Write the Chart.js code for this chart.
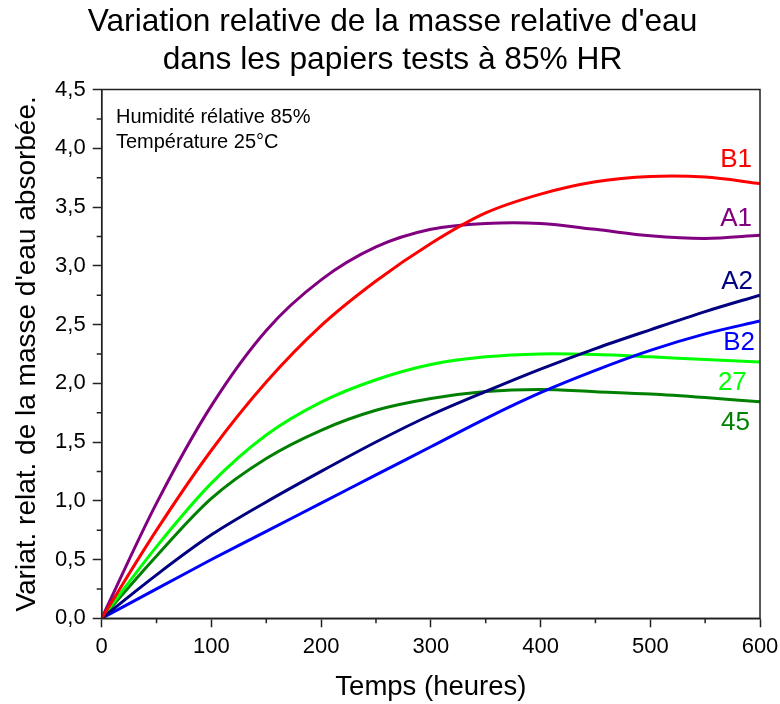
<!DOCTYPE html>
<html>
<head>
<meta charset="utf-8">
<script src="https://cdn.jsdelivr.net/npm/chart.js@4.4.1/dist/chart.umd.min.js"></script>
<style>
  html, body { margin: 0; padding: 0; background: #fff; }
  #wrap { width: 780px; height: 704px; }
</style>
</head>
<body>
<div id="wrap"><canvas id="c" width="780" height="704"></canvas></div>
<script>
// ---- data ----
const times = [0, 50, 100, 150, 200, 250, 300, 350, 400, 450, 500, 550, 600];
const seriesA1 = [0, 0.98, 1.81, 2.45, 2.88, 3.16, 3.31, 3.36, 3.36, 3.31, 3.255, 3.232, 3.26];
const seriesB1 = [0, 0.75, 1.43, 2.01, 2.49, 2.87, 3.19, 3.45, 3.61, 3.715, 3.76, 3.755, 3.70];
const seriesA2 = [0, 0.37, 0.71, 0.99, 1.25, 1.50, 1.73, 1.93, 2.12, 2.295, 2.455, 2.61, 2.75];
const seriesB2 = [0, 0.25, 0.50, 0.74, 0.98, 1.22, 1.46, 1.70, 1.92, 2.11, 2.28, 2.42, 2.53];
const series27 = [0, 0.61, 1.15, 1.56, 1.84, 2.03, 2.16, 2.225, 2.25, 2.245, 2.225, 2.202, 2.182];
const series45 = [0, 0.53, 1.02, 1.36, 1.60, 1.77, 1.87, 1.93, 1.948, 1.928, 1.908, 1.878, 1.843];

const seriesNames  = ['B1', 'A1', 'A2', 'B2', '27', '45'];
const seriesColors = ['#ff0000', '#800080', '#000080', '#0000ff', '#00ff00', '#008000'];
const seriesValues = [seriesB1, seriesA1, seriesA2, seriesB2, series27, series45];
// end labels: right edge (hours) and vertical centre (value)
const labelX = [592.7, 592.7, 593.6, 595.4, 588, 590.9];
const labelY = [3.90, 3.40, 2.86, 2.34, 2.00, 1.66];

const xMinor = [50, 150, 250, 350, 450, 550];
const yMinor = [0.25, 0.75, 1.25, 1.75, 2.25, 2.75, 3.25, 3.75, 4.25];

const titleLines = ["Variation relative de la masse relative d'eau", "dans les papiers tests à 85% HR"];
const xTitle = 'Temps (heures)';
const yTitle = "Variat. relat. de la masse d'eau absorbée.";
const notes = ['Humidité rélative 85%', 'Température 25°C'];
const notesX = 13;
const notesY = [4.215, 4.005];

const FONT = "'Liberation Sans', Arial, Helvetica, sans-serif";
Chart.defaults.font.family = FONT;
Chart.defaults.color = '#000';

const datasets = seriesValues.map((vals, i) => ({
  label: seriesNames[i],
  data: times.map((t, k) => ({ x: t, y: vals[k] })),
  borderColor: seriesColors[i],
  backgroundColor: seriesColors[i],
  borderWidth: 3,
  pointRadius: 0,
  fill: false,
  tension: 0.33
}));

const extras = {
  id: 'extras',
  afterDatasetsDraw(chart) {
    const { ctx, chartArea: a, scales: { x, y } } = chart;
    ctx.save();
    // frame
    ctx.strokeStyle = '#222';
    ctx.lineWidth = 1.5;
    ctx.strokeRect(a.left, a.top, a.right - a.left, a.bottom - a.top);
    // minor ticks
    ctx.beginPath();
    yMinor.forEach(v => { const py = y.getPixelForValue(v); ctx.moveTo(a.left - 5, py); ctx.lineTo(a.left, py); });
    xMinor.forEach(v => { const px = x.getPixelForValue(v); ctx.moveTo(px, a.bottom); ctx.lineTo(px, a.bottom + 5); });
    ctx.stroke();
    // title
    ctx.fillStyle = '#000';
    ctx.font = "31.7px " + FONT;
    ctx.textAlign = 'center';
    ctx.textBaseline = 'middle';
    const cx = chart.width / 2 + 2.5;
    ctx.fillText(titleLines[0], cx, 22);
    ctx.fillText(titleLines[1], cx, 60);
    // notes
    ctx.font = "20px " + FONT;
    ctx.textAlign = 'left';
    ctx.textBaseline = 'alphabetic';
    notes.forEach((t, i) => ctx.fillText(t, x.getPixelForValue(notesX), y.getPixelForValue(notesY[i])));
    // series labels
    ctx.font = "26px " + FONT;
    ctx.textAlign = 'right';
    ctx.textBaseline = 'middle';
    seriesNames.forEach((n, i) => {
      ctx.fillStyle = seriesColors[i];
      ctx.fillText(n, x.getPixelForValue(labelX[i]), y.getPixelForValue(labelY[i]));
    });
    ctx.restore();
  }
};

new Chart(document.getElementById('c'), {
  type: 'line',
  data: { datasets },
  options: {
    responsive: false,
    animation: false,
    layout: { padding: { top: 89.5, right: 20, bottom: 0, left: 0 } },
    plugins: {
      legend: { display: false },
      tooltip: { enabled: false },
      title: { display: false }
    },
    scales: {
      x: {
        type: 'linear',
        min: 0, max: 600,
        afterFit(s) { s.height = 85.7; s.paddingRight = 0; s.paddingLeft = 0; },
        border: { display: true, color: '#222', width: 1.5 },
        grid: { drawOnChartArea: false, drawTicks: true, tickLength: 9, tickColor: '#222', tickWidth: 1.5 },
        ticks: { stepSize: 100, color: '#000', font: { size: 22 }, padding: 6, maxRotation: 0,
                 callback: v => String(v) },
        title: { display: true, text: xTitle, color: '#000', font: { size: 27.5 }, padding: { top: 0, bottom: 0 } }
      },
      y: {
        type: 'linear',
        min: 0, max: 4.5,
        afterFit(s) { s.width = 101.7; s.paddingTop = 0; s.paddingBottom = 0; },
        border: { display: true, color: '#222', width: 1.5 },
        grid: { drawOnChartArea: false, drawTicks: true, tickLength: 9, tickColor: '#222', tickWidth: 1.5 },
        ticks: { stepSize: 0.5, color: '#000', font: { size: 22 }, padding: 7,
                 callback: v => Number(v).toFixed(1).replace('.', ',') },
        title: { display: true, text: yTitle, color: '#000', font: { size: 28 }, padding: { top: 10, bottom: 0 } }
      }
    }
  },
  plugins: [extras]
});
</script>
</body>
</html>
